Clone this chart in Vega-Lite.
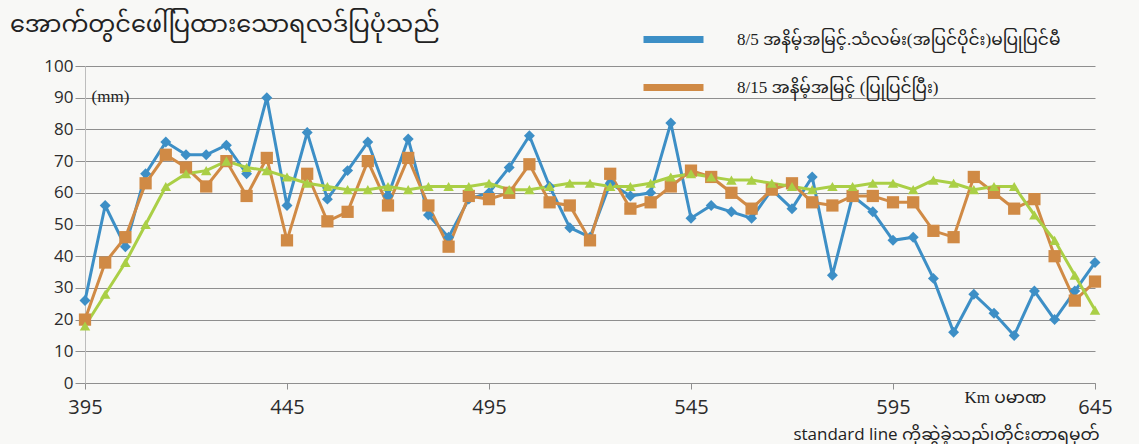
{
  "$schema": "https://vega.github.io/schema/vega-lite/v6.json",
  "width": 1010,
  "height": 317,
  "autosize": {"type": "none"},
  "padding": {"left": 85, "top": 66, "right": 44, "bottom": 61},
  "background": "#f8f8f6",
  "config": {
    "view": {"stroke": null},
    "font": "Open Sans"
  },
  "title": {
    "text": "အောက်တွင်ဖေါ်ပြထားသောရလဒ်ပြပုံသည်",
    "anchor": "start",
    "frame": "group",
    "dx": -75,
    "offset": -31,
    "font": "Noto Sans Myanmar, Padauk, Pyidaungsu, Noto Sans, sans-serif",
    "fontSize": 24,
    "fontWeight": "normal",
    "color": "#222222"
  },
  "data": {
    "values": [
      {"km": 395, "s": "a", "mm": 26}, {"km": 400, "s": "a", "mm": 56}, {"km": 405, "s": "a", "mm": 43}, {"km": 410, "s": "a", "mm": 66},
      {"km": 415, "s": "a", "mm": 76}, {"km": 420, "s": "a", "mm": 72}, {"km": 425, "s": "a", "mm": 72}, {"km": 430, "s": "a", "mm": 75},
      {"km": 435, "s": "a", "mm": 66}, {"km": 440, "s": "a", "mm": 90}, {"km": 445, "s": "a", "mm": 56}, {"km": 450, "s": "a", "mm": 79},
      {"km": 455, "s": "a", "mm": 58}, {"km": 460, "s": "a", "mm": 67}, {"km": 465, "s": "a", "mm": 76}, {"km": 470, "s": "a", "mm": 59},
      {"km": 475, "s": "a", "mm": 77}, {"km": 480, "s": "a", "mm": 53}, {"km": 485, "s": "a", "mm": 46}, {"km": 490, "s": "a", "mm": 58},
      {"km": 495, "s": "a", "mm": 60}, {"km": 500, "s": "a", "mm": 68}, {"km": 505, "s": "a", "mm": 78}, {"km": 510, "s": "a", "mm": 62},
      {"km": 515, "s": "a", "mm": 49}, {"km": 520, "s": "a", "mm": 46}, {"km": 525, "s": "a", "mm": 63}, {"km": 530, "s": "a", "mm": 59},
      {"km": 535, "s": "a", "mm": 60}, {"km": 540, "s": "a", "mm": 82}, {"km": 545, "s": "a", "mm": 52}, {"km": 550, "s": "a", "mm": 56},
      {"km": 555, "s": "a", "mm": 54}, {"km": 560, "s": "a", "mm": 52}, {"km": 565, "s": "a", "mm": 61}, {"km": 570, "s": "a", "mm": 55},
      {"km": 575, "s": "a", "mm": 65}, {"km": 580, "s": "a", "mm": 34}, {"km": 585, "s": "a", "mm": 59}, {"km": 590, "s": "a", "mm": 54},
      {"km": 595, "s": "a", "mm": 45}, {"km": 600, "s": "a", "mm": 46}, {"km": 605, "s": "a", "mm": 33}, {"km": 610, "s": "a", "mm": 16},
      {"km": 615, "s": "a", "mm": 28}, {"km": 620, "s": "a", "mm": 22}, {"km": 625, "s": "a", "mm": 15}, {"km": 630, "s": "a", "mm": 29},
      {"km": 635, "s": "a", "mm": 20}, {"km": 640, "s": "a", "mm": 29}, {"km": 645, "s": "a", "mm": 38},

      {"km": 395, "s": "b", "mm": 20}, {"km": 400, "s": "b", "mm": 38}, {"km": 405, "s": "b", "mm": 46}, {"km": 410, "s": "b", "mm": 63},
      {"km": 415, "s": "b", "mm": 72}, {"km": 420, "s": "b", "mm": 68}, {"km": 425, "s": "b", "mm": 62}, {"km": 430, "s": "b", "mm": 70},
      {"km": 435, "s": "b", "mm": 59}, {"km": 440, "s": "b", "mm": 71}, {"km": 445, "s": "b", "mm": 45}, {"km": 450, "s": "b", "mm": 66},
      {"km": 455, "s": "b", "mm": 51}, {"km": 460, "s": "b", "mm": 54}, {"km": 465, "s": "b", "mm": 70}, {"km": 470, "s": "b", "mm": 56},
      {"km": 475, "s": "b", "mm": 71}, {"km": 480, "s": "b", "mm": 56}, {"km": 485, "s": "b", "mm": 43}, {"km": 490, "s": "b", "mm": 59},
      {"km": 495, "s": "b", "mm": 58}, {"km": 500, "s": "b", "mm": 60}, {"km": 505, "s": "b", "mm": 69}, {"km": 510, "s": "b", "mm": 57},
      {"km": 515, "s": "b", "mm": 56}, {"km": 520, "s": "b", "mm": 45}, {"km": 525, "s": "b", "mm": 66}, {"km": 530, "s": "b", "mm": 55},
      {"km": 535, "s": "b", "mm": 57}, {"km": 540, "s": "b", "mm": 62}, {"km": 545, "s": "b", "mm": 67}, {"km": 550, "s": "b", "mm": 65},
      {"km": 555, "s": "b", "mm": 60}, {"km": 560, "s": "b", "mm": 55}, {"km": 565, "s": "b", "mm": 61}, {"km": 570, "s": "b", "mm": 63},
      {"km": 575, "s": "b", "mm": 57}, {"km": 580, "s": "b", "mm": 56}, {"km": 585, "s": "b", "mm": 59}, {"km": 590, "s": "b", "mm": 59},
      {"km": 595, "s": "b", "mm": 57}, {"km": 600, "s": "b", "mm": 57}, {"km": 605, "s": "b", "mm": 48}, {"km": 610, "s": "b", "mm": 46},
      {"km": 615, "s": "b", "mm": 65}, {"km": 620, "s": "b", "mm": 60}, {"km": 625, "s": "b", "mm": 55}, {"km": 630, "s": "b", "mm": 58},
      {"km": 635, "s": "b", "mm": 40}, {"km": 640, "s": "b", "mm": 26}, {"km": 645, "s": "b", "mm": 32},

      {"km": 395, "s": "c", "mm": 18}, {"km": 400, "s": "c", "mm": 28}, {"km": 405, "s": "c", "mm": 38}, {"km": 410, "s": "c", "mm": 50},
      {"km": 415, "s": "c", "mm": 62}, {"km": 420, "s": "c", "mm": 66}, {"km": 425, "s": "c", "mm": 67}, {"km": 430, "s": "c", "mm": 70},
      {"km": 435, "s": "c", "mm": 68}, {"km": 440, "s": "c", "mm": 67}, {"km": 445, "s": "c", "mm": 65}, {"km": 450, "s": "c", "mm": 63},
      {"km": 455, "s": "c", "mm": 62}, {"km": 460, "s": "c", "mm": 61}, {"km": 465, "s": "c", "mm": 61}, {"km": 470, "s": "c", "mm": 62},
      {"km": 475, "s": "c", "mm": 61}, {"km": 480, "s": "c", "mm": 62}, {"km": 485, "s": "c", "mm": 62}, {"km": 490, "s": "c", "mm": 62},
      {"km": 495, "s": "c", "mm": 63}, {"km": 500, "s": "c", "mm": 61}, {"km": 505, "s": "c", "mm": 61}, {"km": 510, "s": "c", "mm": 62},
      {"km": 515, "s": "c", "mm": 63}, {"km": 520, "s": "c", "mm": 63}, {"km": 525, "s": "c", "mm": 62}, {"km": 530, "s": "c", "mm": 62},
      {"km": 535, "s": "c", "mm": 63}, {"km": 540, "s": "c", "mm": 65}, {"km": 545, "s": "c", "mm": 66}, {"km": 550, "s": "c", "mm": 65},
      {"km": 555, "s": "c", "mm": 64}, {"km": 560, "s": "c", "mm": 64}, {"km": 565, "s": "c", "mm": 63}, {"km": 570, "s": "c", "mm": 62},
      {"km": 575, "s": "c", "mm": 61}, {"km": 580, "s": "c", "mm": 62}, {"km": 585, "s": "c", "mm": 62}, {"km": 590, "s": "c", "mm": 63},
      {"km": 595, "s": "c", "mm": 63}, {"km": 600, "s": "c", "mm": 61}, {"km": 605, "s": "c", "mm": 64}, {"km": 610, "s": "c", "mm": 63},
      {"km": 615, "s": "c", "mm": 61}, {"km": 620, "s": "c", "mm": 62}, {"km": 625, "s": "c", "mm": 62}, {"km": 630, "s": "c", "mm": 53},
      {"km": 635, "s": "c", "mm": 45}, {"km": 640, "s": "c", "mm": 34}, {"km": 645, "s": "c", "mm": 23}
    ]
  },
  "encoding": {
    "x": {
      "field": "km",
      "type": "quantitative",
      "scale": {"domain": [395, 645], "nice": false, "zero": false},
      "axis": {
        "values": [395, 445, 495, 545, 595, 645],
        "format": "d",
        "grid": false,
        "domainColor": "#8f8f8f",
        "tickColor": "#8f8f8f",
        "tickSize": 6,
        "labelFontSize": 20,
        "labelColor": "#2b2b2b",
        "labelPadding": 8,
        "labelFlush": false,
        "title": "Km ပမာဏ",
        "titleFont": "Liberation Serif, Noto Sans Myanmar, Padauk, serif",
        "titleFontSize": 17,
        "titleFontWeight": "normal",
        "titleColor": "#222222",
        "titleX": 920,
        "titleY": 14,
        "titleAlign": "center",
        "titleBaseline": "middle"
      }
    }
  },
  "layer": [
    {
      "mark": {"type": "line", "strokeWidth": 3},
      "encoding": {
        "y": {
          "field": "mm",
          "type": "quantitative",
          "scale": {"domain": [0, 100], "nice": false},
          "axis": {
            "values": [0, 10, 20, 30, 40, 50, 60, 70, 80, 90, 100],
            "grid": true,
            "gridColor": "#8f8f8f",
            "gridWidth": 1.2,
            "domainColor": "#bdbdbd",
            "tickColor": "#8f8f8f",
            "tickSize": 10,
            "labelFontSize": 17,
            "labelColor": "#2b2b2b",
            "labelPadding": 2,
            "title": "(mm)",
            "titleAngle": 0,
            "titleX": 25,
            "titleY": 30,
            "titleAlign": "center",
            "titleBaseline": "middle",
            "titleFont": "Liberation Serif, serif",
            "titleFontSize": 17,
            "titleFontWeight": "normal",
            "titleColor": "#222222"
          }
        },
        "color": {
          "field": "s",
          "type": "nominal",
          "scale": {"domain": ["a", "b", "c"], "range": ["#3d8fc6", "#d08a45", "#aacf46"]},
          "legend": {
            "values": ["a", "b"],
            "orient": "none",
            "legendX": 555,
            "legendY": -60,
            "direction": "vertical",
            "title": null,
            "symbolType": "stroke",
            "symbolSize": 3600,
            "symbolStrokeWidth": 7,
            "labelOffset": 30,
            "labelFontSize": 17,
            "labelFont": "Liberation Serif, Noto Sans Myanmar, Padauk, serif",
            "labelColor": "#222222",
            "labelLimit": 600,
            "rowPadding": -2,
            "labelExpr": "datum.label == 'a' ? '8/5 အနိမ့်အမြင့်.သံလမ်း(အပြင်ပိုင်း)မပြုပြင်မီ' : '8/15 အနိမ့်အမြင့် (ပြုပြင်ပြီး)'"
          }
        }
      }
    },
    {
      "transform": [{"filter": "datum.s == 'a'"}],
      "mark": {"type": "point", "shape": "diamond", "filled": true, "opacity": 1, "size": 120, "color": "#3d8fc6"},
      "encoding": {
        "y": {
          "field": "mm",
          "type": "quantitative",
          "scale": {"domain": [0, 100], "nice": false},
          "axis": {
            "orient": "right",
            "labels": false,
            "ticks": false,
            "domain": false,
            "grid": false,
            "title": "standard line ကိုဆွဲခဲ့သည်၊တိုင်းတာရမှတ်",
            "titleAngle": 0,
            "titleX": -149,
            "titleY": 368,
            "titleAlign": "center",
            "titleBaseline": "middle",
            "titleFont": "Open Sans, Noto Sans Myanmar, Padauk, sans-serif",
            "titleFontSize": 17,
            "titleFontWeight": "normal",
            "titleColor": "#222222"
          }
        }
      }
    },
    {
      "transform": [{"filter": "datum.s == 'b'"}],
      "mark": {"type": "point", "shape": "square", "filled": true, "opacity": 1, "size": 150, "color": "#d08a45"},
      "encoding": {
        "y": {"field": "mm", "type": "quantitative", "scale": {"domain": [0, 100], "nice": false}, "axis": null}
      }
    },
    {
      "transform": [{"filter": "datum.s == 'c'"}],
      "mark": {"type": "point", "shape": "triangle-up", "filled": true, "opacity": 1, "size": 110, "color": "#aacf46"},
      "encoding": {
        "y": {"field": "mm", "type": "quantitative", "scale": {"domain": [0, 100], "nice": false}, "axis": null}
      }
    }
  ],
  "resolve": {"scale": {"y": "independent"}}
}
